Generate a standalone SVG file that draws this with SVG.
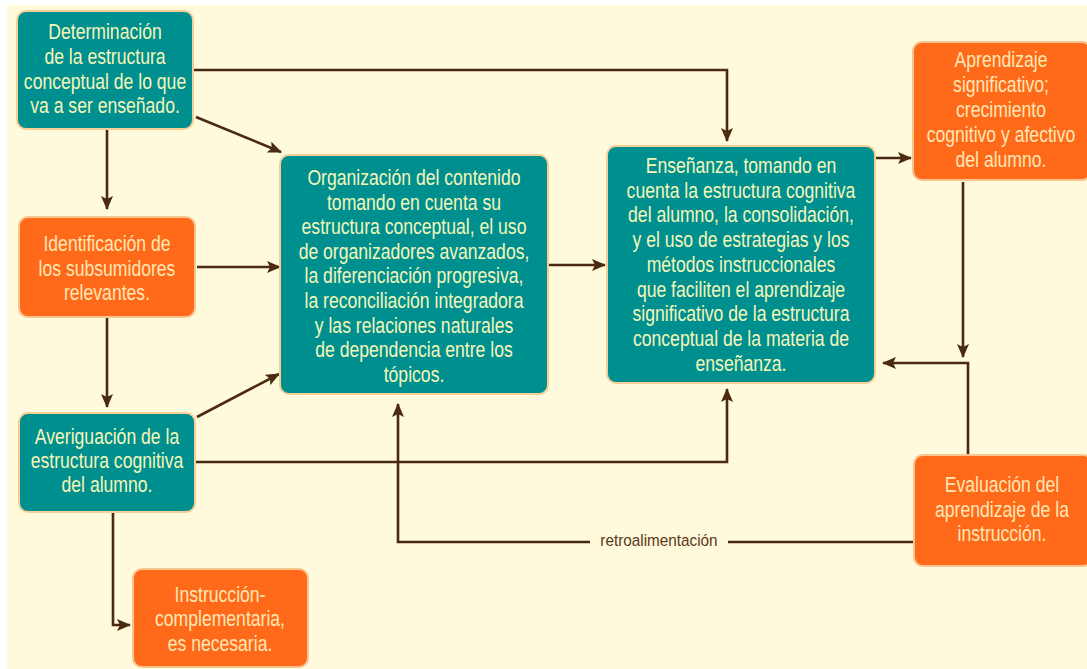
<svg xmlns="http://www.w3.org/2000/svg" width="1087" height="669" viewBox="0 0 1087 669">
<style>
.bg{fill:#FFFADC}
.teal{fill:#008F8F;stroke:#F6CF96;stroke-width:2}
.orange{fill:#FF6A1A;stroke:#F9C58E;stroke-width:2}
.tt{font-family:"Liberation Sans",Arial,sans-serif;font-size:22px;fill:#F4F6B8;text-anchor:middle}
.to{font-family:"Liberation Sans",Arial,sans-serif;font-size:22px;fill:#FFE6B4;text-anchor:middle}
.conn{fill:none;stroke:#4A2A10;stroke-width:2.6}
.lbl{font-family:"Liberation Sans",Arial,sans-serif;font-size:17px;fill:#5A3818;text-anchor:middle}
</style>
<defs>
<marker id="ah" markerUnits="userSpaceOnUse" markerWidth="15" markerHeight="13" refX="13" refY="6" orient="auto">
<path d="M0,0 L14,6 L0,12 L3,6 z" fill="#4A2A10"/>
</marker>
</defs>
<rect width="1087" height="669" fill="#FFFFFF"/>
<rect class="bg" x="7" y="5" width="1080" height="664"/>

<g id="connectors">
<path class="conn" d="M193,70 H727 V141" marker-end="url(#ah)"/>
<path class="conn" d="M196,117 L281,152" marker-end="url(#ah)"/>
<path class="conn" d="M107,129 V209" marker-end="url(#ah)"/>
<path class="conn" d="M197,267 H280" marker-end="url(#ah)"/>
<path class="conn" d="M107,317 V407" marker-end="url(#ah)"/>
<path class="conn" d="M197,417 L279,374" marker-end="url(#ah)"/>
<path class="conn" d="M195,462 H727 V389" marker-end="url(#ah)"/>
<path class="conn" d="M113,512 V625 H130" marker-end="url(#ah)"/>
<path class="conn" d="M549,265 H605" marker-end="url(#ah)"/>
<path class="conn" d="M876,158 H911" marker-end="url(#ah)"/>
<path class="conn" d="M963,182 V357" marker-end="url(#ah)"/>
<path class="conn" d="M968,455 V363 H883" marker-end="url(#ah)"/>
<path class="conn" d="M914,542 H728"/>
<path class="conn" d="M590,542 H398 V404" marker-end="url(#ah)"/>
<g transform="translate(659 0) scale(0.9 1)"><text class="lbl" x="0" y="546">retroalimentación</text></g>
</g>

<g id="n1">
<rect class="teal" x="17" y="11" width="176" height="118" rx="9"/>
<g transform="translate(105 0) scale(0.8 1)">
<text class="tt" x="0" y="39">Determinación</text>
<text class="tt" x="0" y="64">de la estructura</text>
<text class="tt" x="0" y="89">conceptual de lo que</text>
<text class="tt" x="0" y="113">va a ser enseñado.</text>
</g>
</g>

<g id="n2">
<rect class="orange" x="19" y="217" width="176" height="100" rx="9"/>
<g transform="translate(107 0) scale(0.8 1)">
<text class="to" x="0" y="251">Identificación de</text>
<text class="to" x="0" y="276">los subsumidores</text>
<text class="to" x="0" y="300">relevantes.</text>
</g>
</g>

<g id="n3">
<rect class="teal" x="19" y="413" width="176" height="99" rx="9"/>
<g transform="translate(107 0) scale(0.8 1)">
<text class="tt" x="0" y="444">Averiguación de la</text>
<text class="tt" x="0" y="468">estructura cognitiva</text>
<text class="tt" x="0" y="492">del alumno.</text>
</g>
</g>

<g id="n4">
<rect class="orange" x="133" y="569" width="175" height="98" rx="9"/>
<g transform="translate(220 0) scale(0.8 1)">
<text class="to" x="0" y="602">Instrucción-</text>
<text class="to" x="0" y="626">complementaria,</text>
<text class="to" x="0" y="651">es necesaria.</text>
</g>
</g>

<g id="n5">
<rect class="teal" x="280" y="155" width="268" height="239" rx="9"/>
<g transform="translate(414 0) scale(0.8 1)">
<text class="tt" x="0" y="185">Organización del contenido</text>
<text class="tt" x="0" y="210">tomando en cuenta su</text>
<text class="tt" x="0" y="234">estructura conceptual, el uso</text>
<text class="tt" x="0" y="259">de organizadores avanzados,</text>
<text class="tt" x="0" y="283">la diferenciación progresiva,</text>
<text class="tt" x="0" y="308">la reconciliación integradora</text>
<text class="tt" x="0" y="333">y las relaciones naturales</text>
<text class="tt" x="0" y="357">de dependencia entre los</text>
<text class="tt" x="0" y="382">tópicos.</text>
</g>
</g>

<g id="n6">
<rect class="teal" x="607" y="146" width="268" height="237" rx="9"/>
<g transform="translate(741 0) scale(0.8 1)">
<text class="tt" x="0" y="173">Enseñanza, tomando en</text>
<text class="tt" x="0" y="198">cuenta la estructura cognitiva</text>
<text class="tt" x="0" y="222">del alumno, la consolidación,</text>
<text class="tt" x="0" y="247">y el uso de estrategias y los</text>
<text class="tt" x="0" y="272">métodos instruccionales</text>
<text class="tt" x="0" y="297">que faciliten el aprendizaje</text>
<text class="tt" x="0" y="321">significativo de la estructura</text>
<text class="tt" x="0" y="346">conceptual de la materia de</text>
<text class="tt" x="0" y="371">enseñanza.</text>
</g>
</g>

<g id="n7">
<rect class="orange" x="913" y="42" width="178" height="138" rx="9"/>
<g transform="translate(1001 0) scale(0.8 1)">
<text class="to" x="0" y="67">Aprendizaje</text>
<text class="to" x="0" y="92">significativo;</text>
<text class="to" x="0" y="117">crecimiento</text>
<text class="to" x="0" y="142">cognitivo y afectivo</text>
<text class="to" x="0" y="167">del alumno.</text>
</g>
</g>

<g id="n8">
<rect class="orange" x="914" y="455" width="178" height="111" rx="9"/>
<g transform="translate(1002 0) scale(0.8 1)">
<text class="to" x="0" y="492">Evaluación del</text>
<text class="to" x="0" y="517">aprendizaje de la</text>
<text class="to" x="0" y="541">instrucción.</text>
</g>
</g>
</svg>
